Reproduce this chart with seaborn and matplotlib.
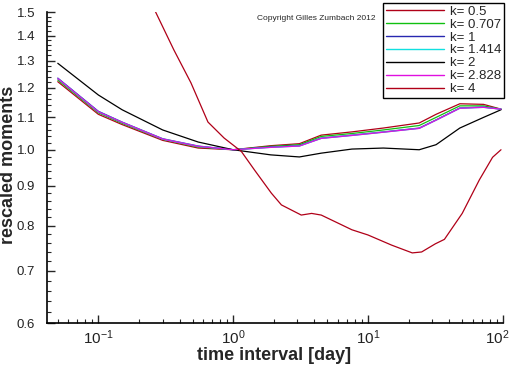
import numpy as np
import pandas as pd
import matplotlib
matplotlib.use('Agg')
import matplotlib.pyplot as plt
import matplotlib.ticker as mticker
import matplotlib.transforms as mtrans
import seaborn as sns

# time interval grid [day]
t = [0.05, 0.1, 0.15, 0.3, 0.55, 1.0, 1.9, 3.1, 4.5, 7.6, 13, 24, 32, 48, 72, 97]

m_05 = [1.222, 1.110, 1.077, 1.028, 1.005, 1.0, 1.012, 1.018, 1.044, 1.054, 1.066, 1.082, 1.110, 1.145, 1.143, 1.127]
m_0707 = [1.228, 1.115, 1.081, 1.031, 1.008, 1.0, 1.010, 1.015, 1.040, 1.049, 1.060, 1.074, 1.100, 1.138, 1.138, 1.127]
m_1 = [1.235, 1.120, 1.085, 1.033, 1.011, 1.0, 1.008, 1.012, 1.035, 1.044, 1.054, 1.066, 1.092, 1.131, 1.134, 1.127]
m_1414 = [1.233, 1.118, 1.084, 1.032, 1.010, 1.0, 1.007, 1.011, 1.034, 1.043, 1.053, 1.065, 1.091, 1.130, 1.133, 1.127]
m_2 = [1.290, 1.175, 1.125, 1.060, 1.023, 1.0, 0.985, 0.979, 0.990, 1.002, 1.005, 1.000, 1.015, 1.066, 1.100, 1.125]
m_2828 = [1.233, 1.118, 1.084, 1.032, 1.010, 1.0, 1.007, 1.011, 1.034, 1.043, 1.053, 1.065, 1.091, 1.130, 1.133, 1.127]

t_4 = [0.05, 0.1, 0.2, 0.266, 0.363, 0.486, 0.65, 0.857, 1.15, 1.44, 1.92, 2.28, 3.2, 3.82, 4.5,
       7.6, 10, 15, 21.3, 25, 31.6, 36.9, 50, 67, 84, 97]
m_4 = [3.0, 2.2, 1.65, 1.5, 1.342, 1.218, 1.085, 1.035, 0.995, 0.942, 0.880, 0.850, 0.825, 0.829, 0.825,
       0.790, 0.778, 0.755, 0.738, 0.740, 0.758, 0.768, 0.829, 0.915, 0.978, 1.0]

labels = ['k= 0.5', 'k= 0.707', 'k= 1', 'k= 1.414', 'k= 2', 'k= 2.828', 'k= 4']
colors = ['#b00018', '#10c010', '#2828b0', '#10e0e0', '#000000', '#e010e0', '#b00018']

series = [(t, m_05), (t, m_0707), (t, m_1), (t, m_1414), (t, m_2), (t, m_2828), (t_4, m_4)]
frames = []
for lab, (x, y) in zip(labels, series):
    frames.append(pd.DataFrame({'t': x, 'm': y, 'k': lab}))
df = pd.concat(frames, ignore_index=True)

sns.set_style('ticks')
plt.rcParams['font.family'] = ['Liberation Sans', 'DejaVu Sans']
plt.rcParams['mathtext.fontset'] = 'custom'
plt.rcParams['mathtext.rm'] = 'Liberation Sans'
plt.rcParams['mathtext.it'] = 'Liberation Sans'
plt.rcParams['mathtext.default'] = 'regular'

fig = plt.figure(figsize=(5.12, 3.66), dpi=100)
ax = fig.add_axes([0.092, 0.117, 0.890, 0.850])

sns.lineplot(data=df, x='t', y='m', hue='k', hue_order=labels,
             palette=dict(zip(labels, colors)), linewidth=0.9,
             estimator=None, sort=False, ax=ax)

ax.set_xscale('log')
ax.set_yscale('log')
ax.set_xlim(1 / 24, 100)
ax.set_ylim(0.6, 1.5)

yt = [0.6, 0.7, 0.8, 0.9, 1.0, 1.1, 1.2, 1.3, 1.4, 1.5]
ax.yaxis.set_major_locator(mticker.FixedLocator(yt))
ax.yaxis.set_major_formatter(mticker.FixedFormatter(['%.1f' % v for v in yt]))
ax.yaxis.set_minor_locator(mticker.FixedLocator(np.arange(0.6, 1.5, 0.02)))
ax.yaxis.set_minor_formatter(mticker.NullFormatter())
xt = [0.1, 1, 10, 100]
ax.xaxis.set_major_locator(mticker.FixedLocator(xt))
ax.xaxis.set_major_formatter(mticker.FixedFormatter(['$10^{-1}$', '$10^{0}$', '$10^{1}$', '$10^{2}$']))
ax.xaxis.set_minor_locator(mticker.LogLocator(base=10, subs=np.arange(2, 10)))
ax.xaxis.set_minor_formatter(mticker.NullFormatter())

ax.tick_params(which='major', direction='in', length=6, width=1, labelsize=9.5,
               labelcolor='#222222', top=False, right=False)
ax.tick_params(axis='y', which='major', pad=8.5)
ax.tick_params(axis='x', which='major', pad=4, labelsize=11)
ax.tick_params(which='minor', direction='in', length=3, width=0.8, top=False, right=False)
last = ax.get_xticklabels()[-1]
last.set_horizontalalignment('right')
last.set_transform(last.get_transform() + mtrans.ScaledTranslation(7 / 100, 0, fig.dpi_scale_trans))

sns.despine(ax=ax)
for s in ['left', 'bottom']:
    ax.spines[s].set_linewidth(1.2)
    ax.spines[s].set_color('black')

ax.set_xlabel('time interval [day]', fontsize=13, fontweight='bold')
ax.set_ylabel('rescaled moments', fontsize=13, fontweight='bold')
ax.xaxis.set_label_coords(0.498, -0.075)
ax.yaxis.set_label_coords(-0.066, 0.508)

leg = ax.legend(loc='upper right', bbox_to_anchor=(0.984, 0.992),
                bbox_transform=fig.transFigure, frameon=True, fontsize=9.5,
                handlelength=4.4, handletextpad=0.45, labelspacing=0.05,
                borderpad=0.2, borderaxespad=0, fancybox=False)
leg.get_frame().set_edgecolor('black')
leg.get_frame().set_linewidth(1.0)
leg.get_frame().set_alpha(1)
for h in leg.get_lines():
    h.set_linewidth(1.0)

fig.text(0.502, 0.946, 'Copyright Gilles Zumbach 2012', fontsize=6)

fig.savefig('out.png', dpi=100)
